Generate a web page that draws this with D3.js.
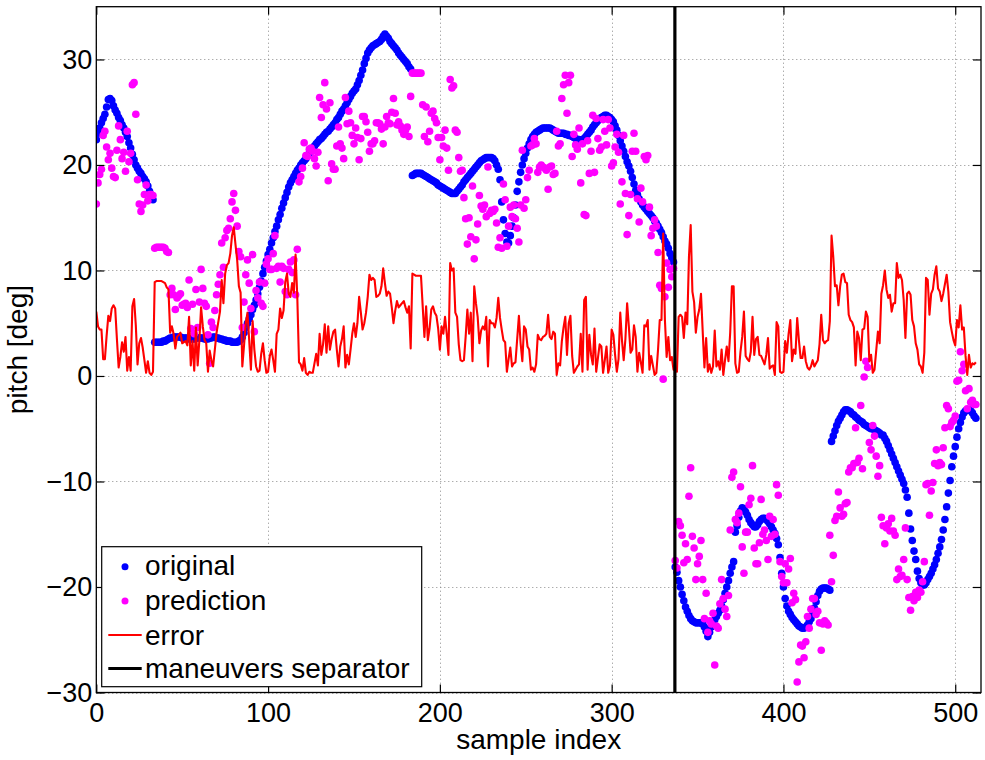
<!DOCTYPE html>
<html><head><meta charset="utf-8">
<script src="https://cdn.jsdelivr.net/npm/d3@7"></script>
<style>body{margin:0;background:#fff}svg{display:block}text{font-family:"Liberation Sans",Arial,Helvetica,sans-serif}</style>
</head><body>
<svg id="chart" width="985" height="760"></svg>
<script>
const original = [
22.4,23.0,23.5,24.0,24.4,24.8,25.5,26.2,26.3,26.1,
25.6,25.2,24.9,24.5,24.2,23.8,23.5,23.1,22.7,22.1,
21.6,21.0,20.5,20.0,19.7,19.4,19.2,18.9,18.7,18.4,
18.0,17.5,17.1,16.7,3.2,3.2,3.2,3.2,3.2,3.3,
3.3,3.4,3.5,3.6,3.6,3.7,3.7,3.7,3.7,3.7,
3.6,3.6,3.6,3.6,3.5,3.5,3.5,3.5,3.6,3.6,
3.6,3.6,3.6,3.5,3.5,3.5,3.6,3.6,3.7,3.7,
3.6,3.6,3.5,3.5,3.4,3.4,3.3,3.3,3.3,3.2,
3.2,3.2,3.2,3.3,3.4,3.7,4.1,4.6,5.0,5.4,
5.8,6.3,6.7,7.2,7.8,8.4,9.0,9.7,10.3,10.9,
11.5,12.0,12.6,13.1,13.7,14.2,14.8,15.3,15.9,16.4,
16.9,17.4,17.9,18.3,18.6,18.9,19.2,19.5,19.7,20.0,
20.2,20.4,20.6,20.9,21.1,21.3,21.6,21.8,22.0,22.2,
22.4,22.5,22.7,22.9,23.1,23.2,23.4,23.6,23.8,24.0,
24.3,24.5,24.8,25.1,25.3,25.6,25.9,26.2,26.5,26.8,
27.0,27.2,27.6,28.0,28.5,29.0,29.6,30.1,30.6,30.9,
31.1,31.3,31.4,31.5,31.6,31.7,31.9,32.2,32.4,32.2,
32.0,31.7,31.5,31.3,31.1,30.9,30.6,30.4,30.2,30.0,
29.8,29.6,29.3,29.1,19.0,19.1,19.2,19.2,19.2,19.2,
19.1,19.0,18.9,18.8,18.7,18.6,18.5,18.4,18.3,18.1,
18.0,17.9,17.8,17.7,17.6,17.5,17.4,17.3,17.3,17.3,
17.5,17.7,17.9,18.1,18.4,18.6,18.8,19.0,19.2,19.4,
19.6,19.8,20.0,20.2,20.4,20.5,20.6,20.7,20.7,20.7,
20.7,20.6,20.4,20.0,19.6,18.6,16.5,14.8,13.5,12.7,
12.6,13.3,14.2,15.0,16.2,17.5,18.4,19.3,20.0,20.6,
21.1,21.6,22.0,22.4,22.7,22.9,23.1,23.2,23.3,23.4,
23.5,23.5,23.5,23.5,23.5,23.4,23.3,23.2,23.1,23.0,
23.0,23.0,23.0,22.9,22.9,22.8,22.8,22.7,22.6,22.5,
22.4,22.4,22.3,22.4,22.5,22.7,22.9,23.1,23.3,23.6,
23.8,24.0,24.2,24.4,24.5,24.6,24.7,24.7,24.6,24.5,
24.3,24.1,23.7,23.3,22.8,22.3,21.8,21.3,20.8,20.3,
19.9,19.4,18.8,18.2,17.6,17.2,16.8,16.5,16.2,16.0,
15.8,15.6,15.4,15.2,15.0,14.7,14.5,14.2,13.9,13.6,
13.2,12.8,12.5,12.1,11.6,11.2,10.8,
-18.1,-18.6,-19.4,-20.0,-20.7,-21.3,-21.9,-22.3,-22.7,-23.0,
-23.2,-23.3,-23.4,-23.4,-23.4,-23.4,-23.5,-23.8,-24.2,-24.7,
-24.3,-23.8,-23.4,-23.1,-22.8,-22.5,-22.2,-21.8,-21.2,-20.6,
-20.0,-19.4,-18.7,-18.1,-17.6,
-14.8,-14.2,-13.4,-12.8,-12.5,-12.6,-12.9,-13.2,-13.6,-13.9,
-14.1,-14.3,-14.3,-14.1,-13.8,-13.6,-13.5,-13.5,-13.6,-13.8,
-14.0,-14.3,-14.6,-14.9,-15.4,-16.0,-17.2,-18.7,-20.0,-21.1,
-21.8,-22.3,-22.6,-22.9,-23.1,-23.3,-23.5,-23.7,-23.8,-23.9,
-23.9,-23.8,-23.6,-23.3,-23.0,-22.6,-22.0,-21.4,-20.8,-20.4,
-20.2,-20.1,-20.1,-20.1,-20.2,-20.3,
-6.2,-5.7,-5.2,-4.7,-4.3,-4.0,-3.7,-3.4,-3.2,-3.2,
-3.3,-3.4,-3.6,-3.7,-3.9,-4.0,-4.2,-4.3,-4.4,-4.6,
-4.7,-4.8,-4.9,-5.0,-5.0,-5.1,-5.2,-5.3,-5.4,-5.6,
-5.6,-5.9,-6.2,-6.6,-7.0,-7.4,-7.8,-8.2,-8.6,-9.0,
-9.4,-9.8,-10.2,-10.8,-11.5,-13.0,-14.5,-15.6,-16.6,-17.4,
-18.5,-19.2,-19.6,-19.8,-19.8,-19.6,-19.3,-19.0,-18.7,-18.3,
-17.9,-17.4,-16.8,-16.2,-15.5,-14.6,-13.6,-12.4,-11.1,-9.9,
-8.6,-7.6,-6.7,-5.8,-5.0,-4.4,-3.9,-3.5,-3.3,-3.2,
-3.2,-3.3,-3.5,-3.8,-4.0
];

const prediction = [
16.3,18.3,19.1,19.6,22.8,23.2,21.7,20.5,21.1,19.7,
18.9,18.8,21.4,23.7,22.4,20.6,21.2,19.4,23.2,20.3,
21.1,27.6,27.8,24.8,18.6,16.3,15.6,16.2,17.2,18.1,
16.6,17.2,17.2,17.1,12.1,12.2,12.2,12.2,12.2,12.2,
12.1,11.8,11.7,7.7,8.3,7.7,6.3,7.4,7.6,7.8,
6.7,6.8,6.9,6.5,9.1,4.5,6.8,4.0,8.2,4.6,
7.0,10.1,8.3,6.9,6.6,3.9,1.2,5.1,4.6,6.2,
7.7,8.7,9.6,12.6,10.3,13.1,13.8,14.0,14.9,16.5,
17.3,15.7,14.2,11.8,11.3,4.6,7.0,9.6,11.0,8.8,
6.4,11.5,4.2,8.1,7.4,8.9,6.9,6.6,8.8,10.6,
11.1,10.1,10.1,11.6,13.3,10.2,10.4,8.9,10.4,10.2,
8.0,7.7,10.1,10.8,9.8,11.0,7.7,12.0,18.4,18.9,
19.7,22.1,20.9,20.8,21.5,21.6,21.3,20.6,19.9,21.2,
26.4,24.5,25.7,27.8,25.3,18.5,25.9,20.1,19.6,19.6,
21.8,23.6,22.0,21.6,20.6,26.4,23.9,25.1,24.0,22.8,
22.0,23.5,22.6,20.5,22.5,24.6,24.6,24.1,23.1,21.3,
22.0,22.0,22.3,24.0,24.0,23.9,23.4,22.0,23.6,24.6,
24.0,23.9,25.0,26.3,24.9,23.8,24.1,23.7,23.3,22.9,
23.3,23.6,22.7,26.5,28.7,28.7,28.7,28.7,28.7,28.7,
25.7,22.7,25.5,22.2,23.2,24.9,25.1,24.4,24.0,22.6,
20.5,22.6,21.8,23.3,21.6,19.5,28.1,27.3,27.5,23.3,
23.1,20.7,19.4,19.5,16.9,14.9,12.5,15.0,13.2,18.0,
11.1,12.9,14.4,17.1,16.1,15.8,16.2,15.1,19.8,15.4,
15.7,15.6,15.8,14.5,12.2,13.1,12.1,18.2,16.7,12.3,
14.2,16.0,15.1,16.2,14.9,14.0,12.7,16.2,21.4,15.9,
16.7,18.8,19.5,21.8,21.9,22.5,22.0,19.3,19.8,20.0,
19.8,19.7,19.5,17.7,19.8,19.9,19.1,19.2,23.2,21.8,
22.0,26.3,27.6,28.5,24.9,27.8,28.5,20.8,22.9,21.9,
21.5,23.5,18.3,22.0,15.3,15.2,22.3,19.2,21.3,24.7,
19.3,24.4,22.5,21.4,21.7,24.3,23.2,21.9,24.3,23.5,
19.9,20.2,21.7,22.9,21.2,16.3,18.4,22.8,17.3,13.4,
15.2,17.2,21.3,23.0,21.3,16.8,14.6,17.8,16.5,20.8,
20.5,20.9,16.0,13.3,14.0,14.8,14.2,11.7,8.6,8.3,
-0.3,7.5,10.7,8.4,10.1,9.4,10.2,
-17.5,-18.2,-13.8,-14.2,-15.1,-17.7,-15.9,-17.4,-11.4,-8.7,
-15.2,-16.3,-19.3,-17.8,-17.1,-15.6,-19.3,-23.0,-20.6,-24.3,
-23.2,-23.5,-22.5,-27.4,-23.7,-23.9,-21.6,-19.3,-21.1,-22.1,
-22.8,-20.8,-14.6,-9.6,-9.1,-13.6,-13.9,-13.0,-10.5,-16.2,
-18.7,-14.8,-14.8,-12.2,-11.6,-8.5,-16.3,-17.8,-17.8,-15.8,
-11.7,-15.0,-14.6,-15.6,-17.4,-13.3,-15.2,-13.6,-15.0,-10.3,
-11.3,-17.6,-19.0,-19.6,-17.8,-19.6,-18.3,-17.3,-21.5,-20.6,
-21.2,-29.0,-27.1,-25.5,-25.6,-26.7,-25.2,-22.8,-23.9,-22.1,
-21.1,-21.1,-22.6,-22.3,-23.4,-26.0,-23.5,-23.2,-23.4,-23.6,
-15.1,-19.5,-17.0,-13.7,-13.3,-11.0,-12.5,-13.3,-13.1,-12.1,
-12.0,-9.1,-8.7,-8.7,-8.3,-4.9,-8.2,-7.8,-2.8,-8.8,
-0.1,1.4,0.8,-6.3,-7.0,-4.7,-5.7,-7.6,-9.5,-8.5,
-13.4,-14.2,-15.9,-14.4,-14.0,-14.7,-13.5,-14.7,-15.1,-19.3,
-18.3,-19.0,-18.9,-17.4,-14.4,-19.3,-21.0,-22.2,-20.9,-21.3,
-20.5,-21.0,-20.3,-20.5,-19.5,-17.6,-10.3,-10.2,-13.2,-10.9,
-10.1,-8.3,-7.0,-8.5,-8.2,-8.4,-6.8,-4.9,-2.8,-3.1,
-4.8,-4.4,-4.2,-3.8,-0.5,-0.4,2.3,0.5,1.1,-1.4,
-3.1,-1.2,-2.5,-2.3,-2.7,-2.7
];

const error = [
6.1,4.7,4.4,4.4,1.6,1.6,3.8,5.7,5.2,6.4,
6.7,6.4,3.5,0.8,1.8,3.2,2.3,3.7,0.5,1.8,
0.5,6.6,7.3,4.8,1.1,3.1,3.6,2.7,1.5,0.3,
1.4,0.3,0.1,0.4,8.9,9.0,9.0,9.0,9.0,8.9,
8.8,8.4,8.2,4.1,4.7,4.0,2.6,3.7,3.9,4.1,
3.1,3.2,3.3,2.9,5.6,1.0,3.3,0.5,4.6,1.0,
3.4,6.5,4.7,3.4,3.1,0.4,2.4,1.5,0.9,2.5,
4.1,5.1,6.1,9.1,6.9,9.7,10.5,10.7,11.6,13.3,
14.1,12.5,11.0,8.5,7.9,0.9,2.9,5.0,6.0,3.4,
0.6,5.2,2.5,0.9,0.4,0.5,2.1,3.1,1.5,0.3,
0.4,1.9,2.5,1.5,0.4,4.0,4.4,6.4,5.5,6.2,
8.9,9.7,7.8,7.5,8.8,7.9,11.5,7.5,1.3,1.1,
0.5,1.7,0.3,0.1,0.4,0.3,0.3,1.2,2.1,1.0,
4.0,2.0,3.0,4.9,2.2,4.7,2.5,3.5,4.2,4.4,
2.5,0.9,2.8,3.5,4.7,0.8,2.0,1.1,2.5,4.0,
5.0,3.7,5.0,7.5,6.0,4.4,5.0,6.0,7.5,9.6,
9.1,9.3,9.1,7.5,7.6,7.8,8.5,10.2,8.8,7.6,
8.0,7.8,6.5,5.0,6.2,7.1,6.5,6.7,6.9,7.1,
6.5,6.0,6.6,2.6,9.7,9.6,9.5,9.5,9.5,9.5,
6.6,3.7,6.6,3.4,4.5,6.3,6.6,6.0,5.7,4.5,
2.5,4.7,4.0,5.6,4.0,2.0,10.7,10.0,10.2,6.0,
5.6,3.0,1.5,1.4,1.5,3.7,6.3,4.0,6.0,1.4,
8.5,6.9,5.6,3.1,4.3,4.7,4.4,5.6,0.9,5.3,
5.0,5.0,4.6,5.5,7.4,5.5,4.4,3.4,3.2,0.4,
1.6,2.7,0.9,1.2,1.3,3.5,5.7,3.1,1.4,4.7,
4.4,2.8,2.5,0.6,0.8,0.4,1.1,3.9,3.5,3.4,
3.7,3.8,4.0,5.8,3.7,3.5,4.2,4.0,0.1,1.2,
1.0,3.3,4.6,5.6,2.0,5.0,5.7,1.9,0.3,0.6,
0.9,1.1,4.0,0.4,7.2,7.5,0.6,3.9,2.0,1.1,
4.5,0.4,1.7,3.0,2.8,0.3,1.5,2.8,0.3,1.0,
4.4,3.9,2.0,0.4,1.6,6.0,3.4,1.5,3.5,6.9,
4.7,2.2,2.5,4.8,3.7,0.4,2.2,1.3,0.3,4.8,
4.7,5.3,0.6,1.9,1.0,0.1,0.3,2.5,5.3,5.3,
13.5,5.3,1.8,3.7,1.5,1.8,0.6,
0.6,0.4,5.6,5.8,5.6,3.6,6.0,4.9,11.3,14.3,
8.0,7.0,4.1,5.6,6.3,7.8,4.2,0.8,3.6,0.4,
1.1,0.3,0.9,4.3,0.9,1.4,0.6,2.5,0.1,1.5,
2.8,1.4,4.1,8.5,8.5,1.2,0.3,0.4,2.3,3.7,
6.1,1.9,1.6,1.4,2.3,5.6,2.0,3.5,3.7,2.0,
1.9,1.5,1.1,2.0,3.6,0.7,0.9,1.0,0.1,5.1,
4.7,0.4,0.3,0.4,3.3,2.2,4.0,5.3,1.4,2.5,
2.1,5.5,3.4,1.7,1.7,2.8,1.4,0.8,0.6,0.9,
1.5,0.9,1.2,1.5,3.0,5.8,3.4,3.1,3.3,3.4,
5.2,13.3,11.3,8.5,8.6,6.7,8.5,9.6,9.7,8.9,
8.8,5.8,5.3,5.1,4.6,1.0,4.2,3.6,1.5,4.4,
4.5,6.1,5.6,1.4,2.0,0.3,0.6,2.4,4.2,3.1,
7.8,8.6,10.0,8.2,7.4,7.7,6.1,6.9,6.9,10.7,
9.3,9.6,9.1,7.2,3.6,7.8,8.0,7.7,5.3,4.7,
3.1,2.5,1.1,0.9,0.3,2.2,9.3,9.1,5.8,7.8,
8.2,9.6,10.4,8.3,8.0,7.1,7.8,8.7,9.6,8.0,
5.1,4.2,3.4,2.9,5.3,4.6,6.7,4.4,4.6,1.9,
0.1,2.0,0.8,1.2,1.1,1.3
];

const separatorIndex = 336.8;
const xTicks = [0, 100, 200, 300, 400, 500];
const yTicks = [-30, -20, -10, 0, 10, 20, 30];
const xDomain = [0, 515];
const yDomain = [-30, 35];
const legendLabels = ["original", "prediction", "error", "maneuvers separator"];
const xLabel = "sample index";
const yLabel = "pitch [deg]";

const svg = d3.select("#chart");
const L = 96.3, R = 981, T = 6.7, B = 692.5;
const x = d3.scaleLinear().domain(xDomain).range([L, R]);
const y = d3.scaleLinear().domain(yDomain).range([B, T]);
const FS = 28, TFS = 27;
const fmt = d => d < 0 ? "\u2212" + Math.abs(d) : String(d);

svg.append("rect").attr("width", 985).attr("height", 760).attr("fill", "#fff");

// grid
const grid = svg.append("g").attr("stroke", "#8a8a8a").attr("stroke-width", 1).attr("stroke-dasharray", "1,3");
grid.selectAll(".gx").data(xTicks).join("line").attr("class", "gx")
  .attr("x1", d => Math.round(x(d)) + 0.5).attr("x2", d => Math.round(x(d)) + 0.5).attr("y1", T).attr("y2", B);
grid.selectAll(".gy").data(yTicks).join("line").attr("class", "gy")
  .attr("y1", d => Math.round(y(d)) + 0.5).attr("y2", d => Math.round(y(d)) + 0.5).attr("x1", L).attr("x2", R);

svg.append("clipPath").attr("id", "clip").append("rect")
  .attr("x", L).attr("y", T).attr("width", R - L).attr("height", B - T);
const plot = svg.append("g").attr("clip-path", "url(#clip)");

const r = 3.8;
plot.append("g").selectAll("circle").data(original).join("circle")
  .attr("cx", (d, i) => x(i)).attr("cy", d => y(d)).attr("r", r).attr("fill", "#0000ff");
plot.append("g").selectAll("circle").data(prediction).join("circle")
  .attr("cx", (d, i) => x(i)).attr("cy", d => y(d)).attr("r", r).attr("fill", "#ff00ff");
plot.append("path").datum(error)
  .attr("d", d3.line().x((d, i) => x(i)).y(d => y(d)))
  .attr("fill", "none").attr("stroke", "#ff0000").attr("stroke-width", 2.1).attr("stroke-linejoin", "round");
plot.append("line").attr("x1", x(separatorIndex)).attr("x2", x(separatorIndex))
  .attr("y1", T).attr("y2", B).attr("stroke", "#000").attr("stroke-width", 3.2);

// axes
const tk = 8;
const axB = svg.append("g").attr("transform", `translate(0,${B})`)
  .call(d3.axisBottom(x).tickValues(xTicks).tickSize(-tk).tickPadding(10).tickFormat(fmt));
const axL = svg.append("g").attr("transform", `translate(${L},0)`)
  .call(d3.axisLeft(y).tickValues(yTicks).tickSize(-tk).tickPadding(4).tickFormat(fmt));
const axT = svg.append("g").attr("transform", `translate(0,${T})`)
  .call(d3.axisTop(x).tickValues(xTicks).tickSize(-tk).tickFormat(""));
const axR = svg.append("g").attr("transform", `translate(${R},0)`)
  .call(d3.axisRight(y).tickValues(yTicks).tickSize(-tk).tickFormat(""));
[axB, axL, axT, axR].forEach(a => {
  a.select(".domain").remove();
  a.selectAll(".tick line").attr("stroke", "#000").attr("stroke-width", 1.2);
  a.selectAll("text").attr("font-size", TFS).attr("fill", "#000")
    .attr("font-family", '"Liberation Sans", Arial, Helvetica, sans-serif');
});

svg.append("rect").attr("x", L).attr("y", T).attr("width", R - L).attr("height", B - T)
  .attr("fill", "none").attr("stroke", "#000").attr("stroke-width", 1.3);

svg.append("text").attr("x", (L + R) / 2).attr("y", 749).attr("text-anchor", "middle")
  .attr("font-size", FS).text(xLabel);
svg.append("text").attr("transform", `translate(27,${(T + B) / 2}) rotate(-90)`)
  .attr("text-anchor", "middle").attr("font-size", FS).text(yLabel);

// legend
const lg = svg.append("g");
lg.append("rect").attr("x", 101.7).attr("y", 546.7).attr("width", 320).attr("height", 140)
  .attr("fill", "#fff").attr("stroke", "#000").attr("stroke-width", 1.2);
const rowsY = [566.7, 601, 635, 668.5];
const baseY = [575, 610, 645, 678];
lg.append("circle").attr("cx", 125).attr("cy", rowsY[0]).attr("r", 3.5).attr("fill", "#0000ff");
lg.append("circle").attr("cx", 125).attr("cy", rowsY[1]).attr("r", 3.5).attr("fill", "#ff00ff");
lg.append("line").attr("x1", 108.3).attr("x2", 141.7).attr("y1", rowsY[2]).attr("y2", rowsY[2])
  .attr("stroke", "#ff0000").attr("stroke-width", 2);
lg.append("line").attr("x1", 108.3).attr("x2", 141.7).attr("y1", rowsY[3]).attr("y2", rowsY[3])
  .attr("stroke", "#000").attr("stroke-width", 3);
lg.selectAll("text.lt").data(legendLabels).join("text").attr("class", "lt")
  .attr("x", 145).attr("y", (d, i) => baseY[i]).attr("font-size", FS).text(d => d);
</script>
</body></html>
